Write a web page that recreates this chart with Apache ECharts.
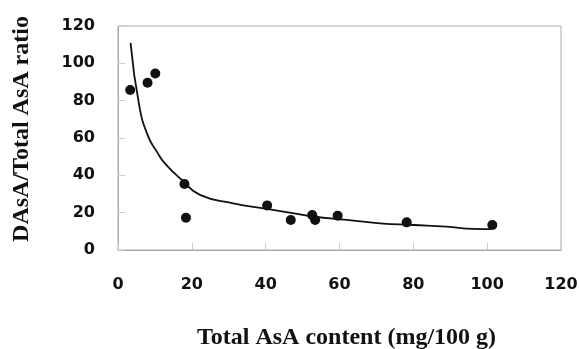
<!DOCTYPE html>
<html><head><meta charset="utf-8">
<script src="https://cdn.jsdelivr.net/npm/echarts@6/dist/echarts.min.js"></script>
<style>html,body{margin:0;padding:0;background:#fff}#c{width:579px;height:349px}</style>
</head><body><div id="c"></div>
<script>
// Measured points: [Total AsA content, DAsA/Total AsA ratio]
const pointX = [3.3, 8.0, 10.1, 18.0, 18.4, 40.4, 46.8, 52.6, 53.4, 59.5, 78.2, 101.4];
const pointY = [85.7, 89.6, 94.6, 35.4, 17.3, 23.9, 16.1, 18.7, 16.1, 18.4, 14.8, 13.4];
// Trend curve
const curveX = [3.4, 5.8, 8.2, 10.5, 12.7, 17.3, 22.2, 31.2, 40.3, 49.3, 52.9, 62, 71, 80, 89, 96.3, 101];
const curveY = [111, 76.8, 60.7, 52.7, 46.4, 37.5, 29.5, 25.0, 22.0, 19.1, 17.9, 16.1, 14.3, 13.4, 12.5, 11.3, 11.2];
const xTicks = [0, 20, 40, 60, 80, 100, 120];
const yTicks = [0, 20, 40, 60, 80, 100, 120];

const chart = echarts.init(document.getElementById('c'), null, {renderer: 'canvas'});
const lblStyle = {fontFamily: 'DejaVu Sans', fontWeight: 'bold', fontSize: 16, color: '#111'};
chart.setOption({
  animation: false,
  backgroundColor: '#fff',
  grid: {left: 118, top: 26, right: 18, bottom: 99, show: true, borderColor: '#aaa', borderWidth: 1,
         containLabel: false, outerBoundsMode: 'none'},
  xAxis: {
    type: 'value', min: xTicks[0], max: xTicks[xTicks.length - 1], interval: 20,
    splitLine: {show: false},
    axisLine: {lineStyle: {color: '#aaa', width: 1}},
    axisTick: {inside: true, length: 7, lineStyle: {color: '#ccc'}},
    axisLabel: Object.assign({margin: 27}, lblStyle),
    name: 'Total AsA content (mg/100 g)', nameLocation: 'middle', nameGap: 76,
    nameTextStyle: {fontFamily: 'Liberation Serif', fontWeight: 'bold', fontSize: 24, color: '#111', padding: [0, 0, 0, 14]}
  },
  yAxis: {
    type: 'value', min: yTicks[0], max: yTicks[yTicks.length - 1], interval: 20,
    splitLine: {show: false},
    axisLine: {lineStyle: {color: '#aaa', width: 1}},
    axisTick: {inside: true, length: 7, lineStyle: {color: '#ccc'}},
    axisLabel: Object.assign({margin: 23}, lblStyle),
    name: 'DAsA/Total AsA ratio', nameLocation: 'middle', nameGap: 84,
    nameTextStyle: {fontFamily: 'Liberation Serif', fontWeight: 'bold', fontSize: 24, color: '#111', padding: [0, 0, 0, 18]}
  },
  series: [
    {type: 'line', data: curveX.map((x, i) => [x, curveY[i]]), showSymbol: false, smooth: true,
     lineStyle: {color: '#111', width: 1.8}, z: 2},
    {type: 'scatter', data: pointX.map((x, i) => [x, pointY[i]]), symbolSize: 10,
     itemStyle: {color: '#111', opacity: 1}, z: 3}
  ]
});
</script></body></html>
